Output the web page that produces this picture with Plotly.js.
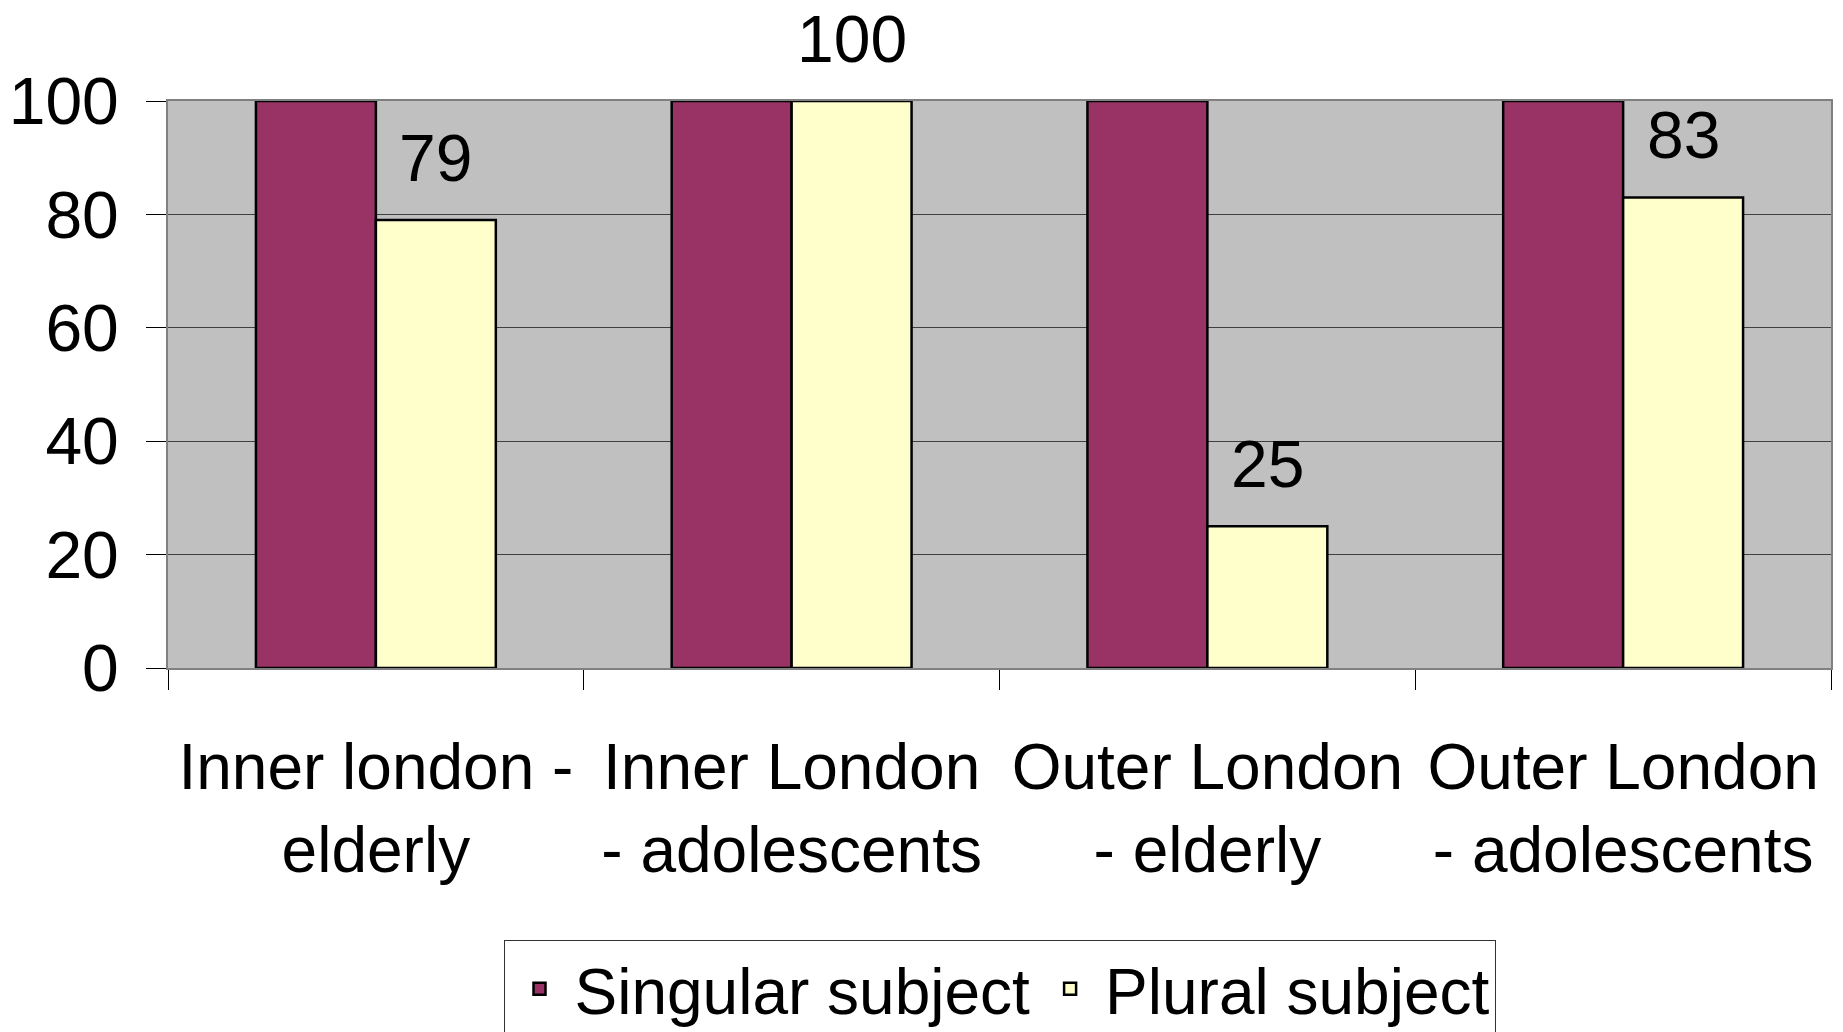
<!DOCTYPE html>
<html>
<head>
<meta charset="utf-8">
<script src="https://cdn.plot.ly/plotly-3.0.1.min.js"></script>
<style>html,body{margin:0;padding:0;background:#fff;}#chart{width:1843px;height:1032px;}</style>
</head>
<body>
<div id="chart"></div>
<script>
const categories = ["Inner london -<br>elderly", "Inner London<br>- adolescents", "Outer London<br>- elderly", "Outer London<br>- adolescents"];
const seriesNames = ["Singular subject", "Plural subject"];
const singular = [100, 100, 100, 100];
const plural = [79, 100, 25, 83];
const yTicks = [0, 20, 40, 60, 80, 100];

const FONT = "Liberation Sans, Arial, sans-serif";
const FS_TEXT = 64;
const FS_NUM = 66;

const traces = [
  {type: "bar", name: seriesNames[0], x: categories, y: singular,
   marker: {color: "#993366", line: {color: "#000000", width: 2.5}}, hoverinfo: "none"},
  {type: "bar", name: seriesNames[1], x: categories, y: plural,
   marker: {color: "#FFFFCC", line: {color: "#000000", width: 2.5}}, hoverinfo: "none"}
];

const annotations = plural.map((v, i) => ({
  x: categories[i], y: v, xref: "x", yref: "y",
  text: String(v), showarrow: false, xanchor: "center", yanchor: "bottom",
  xshift: 60, yshift: 23, font: {family: FONT, size: FS_NUM, color: "#000"}
}));

const layout = {
  width: 1843, height: 1032,
  margin: {l: 168, r: 12, t: 101, b: 364, autoexpand: false},
  paper_bgcolor: "#ffffff",
  plot_bgcolor: "#C0C0C0",
  font: {family: FONT, size: FS_TEXT, color: "#000"},
  barmode: "group",
  bargap: 0.423,
  bargroupgap: 0,
  showlegend: true,
  legend: {orientation: "h", x: 0.5, xanchor: "center", y: -0.479, yanchor: "top",
           bgcolor: "#ffffff", bordercolor: "#333333", borderwidth: 1, itemwidth: 60,
           font: {family: FONT, size: FS_TEXT, color: "#000"}, traceorder: "normal"},
  xaxis: {type: "category", tickson: "boundaries", ticks: "outside", ticklen: 20,
          tickcolor: "#000", tickwidth: 1, showgrid: false, showline: true,
          linecolor: "#808080", linewidth: 2, mirror: true, ticklabelstandoff: 42,
          tickfont: {family: FONT, size: FS_TEXT, color: "#000"}, fixedrange: true},
  yaxis: {range: [0, 100], tickvals: yTicks, ticks: "outside", ticklen: 20,
          tickcolor: "#000", tickwidth: 1, showgrid: true, gridcolor: "#404040",
          gridwidth: 1, showline: true, linecolor: "#808080", linewidth: 2, mirror: true,
          zeroline: false, ticklabelstandoff: 14,
          tickfont: {family: FONT, size: FS_NUM, color: "#000"}, fixedrange: true},
  annotations: annotations
};

Plotly.newPlot("chart", traces, layout, {displayModeBar: false, staticPlot: true});
</script>
</body>
</html>
